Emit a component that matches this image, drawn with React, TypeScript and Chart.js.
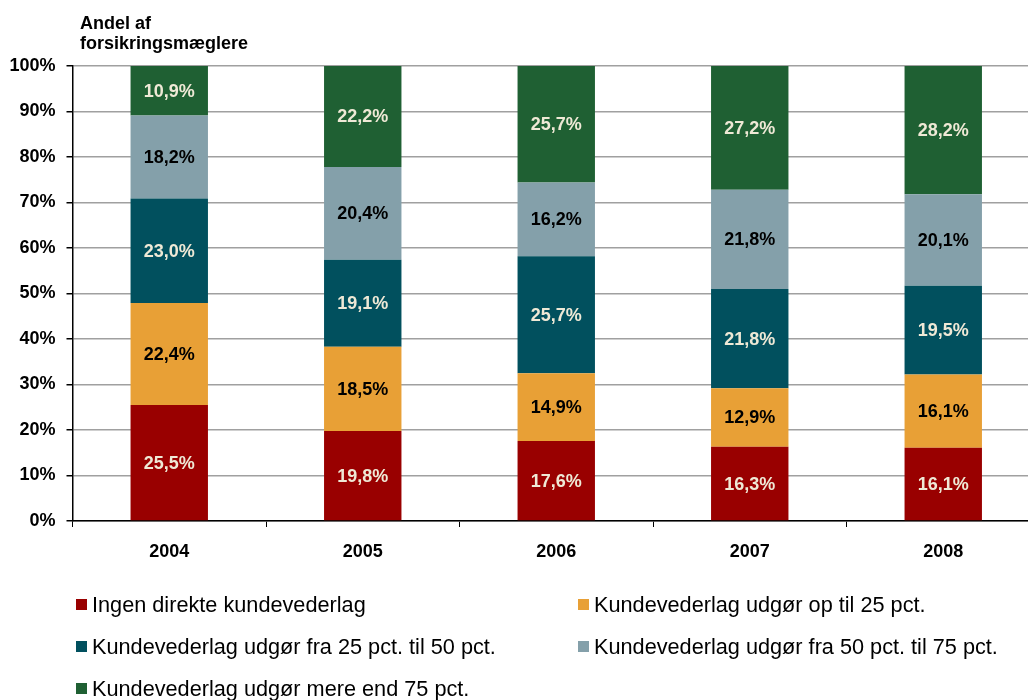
import React, { useEffect, useRef } from "react";
import { Chart, registerables } from "chart.js";

Chart.register(...registerables);

const years = ["2004", "2005", "2006", "2007", "2008"];
const seriesNames = [
  "Ingen direkte kundevederlag",
  "Kundevederlag udgør op til 25 pct.",
  "Kundevederlag udgør fra 25 pct. til 50 pct.",
  "Kundevederlag udgør fra 50 pct. til 75 pct.",
  "Kundevederlag udgør mere end 75 pct.",
];
const ingen = [25.5, 19.8, 17.6, 16.3, 16.1];
const op25 = [22.4, 18.5, 14.9, 12.9, 16.1];
const fra25til50 = [23.0, 19.1, 25.7, 21.8, 19.5];
const fra50til75 = [18.2, 20.4, 16.2, 21.8, 20.1];
const mere75 = [10.9, 22.2, 25.7, 27.2, 28.2];
const colors = ["#990000", "#E8A036", "#01505E", "#84A0AA", "#1F6033"];
const labelColors = ["#EFE9D6", "#000000", "#EFE9D6", "#000000", "#EFE9D6"];
const yTicks = [0, 10, 20, 30, 40, 50, 60, 70, 80, 90, 100];
const titleLines = ["Andel af", "forsikringsmæglere"];

const FONT = "'Liberation Sans', Arial, sans-serif";

export default function App() {
  const ref = useRef<HTMLCanvasElement | null>(null);
  useEffect(() => {
    document.body.style.margin = "0";
    const canvas = ref.current!;
    const values = [ingen, op25, fra25til50, fra50til75, mere75];

    const overlay = {
      id: "overlay",
      afterDatasetsDraw(chart: any) {
        const ctx = chart.ctx;
        ctx.save();
        ctx.font = `bold 18px ${FONT}`;
        ctx.textAlign = "center";
        ctx.textBaseline = "middle";
        chart.data.datasets.forEach((ds: any, di: number) => {
          const meta = chart.getDatasetMeta(di);
          meta.data.forEach((el: any, i: number) => {
            const v = ds.data[i];
            const yMid = (el.y + el.base) / 2;
            ctx.fillStyle = labelColors[di];
            ctx.fillText(v.toFixed(1).replace(".", ",") + "%", el.x, yMid + 1);
          });
        });
        ctx.restore();
      },
      afterDraw(chart: any) {
        const ctx = chart.ctx;
        ctx.save();
        // title
        ctx.font = `bold 18px ${FONT}`;
        ctx.fillStyle = "#000";
        ctx.textAlign = "left";
        ctx.textBaseline = "alphabetic";
        ctx.fillText(titleLines[0], 80, 29);
        ctx.fillText(titleLines[1], 80, 49);
        // legend
        ctx.font = `21.7px ${FONT}`;
        ctx.textBaseline = "middle";
        const rows = [605, 647, 689];
        const cols = [76, 578];
        chart.data.datasets.forEach((ds: any, di: number) => {
          const r = Math.floor(di / 2);
          const c = di % 2;
          const x = cols[c];
          const y = rows[r];
          ctx.fillStyle = ds.backgroundColor;
          ctx.fillRect(x, y - 6, 11, 11);
          ctx.fillStyle = "#000";
          ctx.fillText(ds.label, x + 16, y + 1);
        });
        ctx.restore();
      },
    };

    const chart = new Chart(canvas, {
      type: "bar",
      data: {
        labels: years,
        datasets: values.map((d, i) => ({
          label: seriesNames[i],
          data: d,
          backgroundColor: colors[i],
          borderWidth: 0,
          categoryPercentage: 1,
          barPercentage: 0.4,
        })),
      },
      options: {
        animation: false,
        responsive: false,
        layout: { padding: { left: 0, top: 66, right: 2, bottom: 129 } },
        plugins: { legend: { display: false }, tooltip: { enabled: false } },
        scales: {
          x: {
            stacked: true,
            offset: true,
            grid: {
              offset: true,
              drawOnChartArea: false,
              tickLength: 6,
              color: "#000",
              tickColor: "#000",
            },
            border: { color: "#000", width: 1.5 },
            ticks: {
              padding: 14,
              color: "#000",
              font: { family: FONT, size: 18, weight: "bold" },
            },
            afterFit: (s: any) => {
              s.height = 50;
            },
          },
          y: {
            stacked: true,
            min: 0,
            max: 100,
            afterBuildTicks: (s: any) => {
              s.ticks = yTicks.map((v) => ({ value: v }));
            },
            grid: {
              color: "#A0A0A0",
              lineWidth: 1.5,
              tickLength: 6,
              tickColor: "#000",
            },
            border: { color: "#000", width: 1.5 },
            ticks: {
              padding: 11,
              color: "#000",
              font: { family: FONT, size: 18, weight: "bold" },
              callback: (v: any) => v + "%",
            },
            afterFit: (s: any) => {
              s.width = 72.5;
            },
          },
        },
      },
      plugins: [overlay],
    } as any);
    return () => chart.destroy();
  }, []);

  return (
    <div style={{ width: 1028, height: 700, overflow: "hidden", background: "#fff" }}>
      <canvas ref={ref} width={1042} height={700} style={{ display: "block" }} />
    </div>
  );
}
